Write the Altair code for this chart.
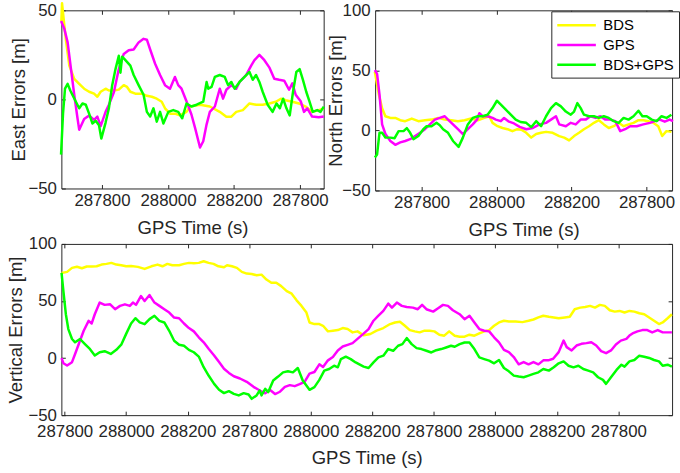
import json
import altair as alt
import pandas as pd

FONT = "Liberation Sans"
INK = "#262626"

series_names = ["BDS", "GPS", "BDS+GPS"]
series_colors = ["#ffff00", "#ff00ff", "#00ff00"]

top_tick_values = [0, 100, 200, 300]
top_tick_labels = ["287800", "288000", "288200", "287800"]
bottom_tick_values = [0, 100, 200, 300, 400, 500, 600, 700, 800, 900]
bottom_tick_labels = ["287800", "288000", "288200", "287800", "288000",
                      "288200", "287800", "288000", "288200", "287800"]

east_y_ticks = [-50, 0, 50]
north_y_ticks = [-50, 0, 50, 100]
vert_y_ticks = [-50, 0, 50, 100]

# ---- East errors (t, value) ----
east_bds = [(-61.5, 44), (-60.5, 54), (-58, 45), (-54.5, 33), (-49.5, 19), (-42, 11.5), (-34.5, 8.7),
            (-27, 6), (-19.5, 4.3), (-12, 3.2), (-7, 1.5), (-2, 4.3), (5.5, 6), (10.5, 5), (18, 5),
            (25.5, 5.5), (33, 8), (38, 7), (43, 4.3), (50.5, 3.2), (60.5, 3.2), (68, 2), (75.5, 1.5),
            (83, 0.4), (90.5, -1.3), (95.5, -5), (103, -8), (110.5, -8), (118, -9), (128, -7),
            (133.5, -4), (148.5, -3), (163.4, -4), (178.4, -7), (188.4, -9.7), (196, -9.7),
            (203.4, -7), (213.4, -6), (223.4, -2.3), (233.4, -3), (243.4, -3), (253.4, -2.3),
            (263.4, -1.3), (271, 0.4), (278.4, -0.5), (288.4, -1.3), (298.4, -2.3), (308.4, -4),
            (318.3, -7), (328.3, -6), (336, -5)]
east_gps = [(-62, 44), (-57, 39.6), (-52, 32), (-47, 17.3), (-42, 2.6), (-37, -10.7), (-34.5, -17),
            (-27, -11), (-19.5, -9), (-12, -11.5), (-7, -9.7), (-2, -15), (5.5, -7), (10.5, -3),
            (18, 4), (25.5, 17), (33, 25.5), (40.5, 27.6), (48, 28), (55.5, 32), (63, 34),
            (68, 33.5), (73, 28), (80.5, 20), (88, 13.7), (95.5, 8), (103, 6), (110.5, 12.6),
            (115.5, 8), (120.5, 6), (128, -1), (135.5, -8.5), (141, -16), (148.5, -27),
            (153.4, -23.5), (158.5, -14), (163.4, -7), (171, -4), (178.4, 6), (183.4, 0.4),
            (188.4, 5.4), (196, 8), (203.4, 6), (208.4, 9.8), (218.4, 13.7), (226, 19), (231, 22),
            (238.4, 25), (246, 22), (253.4, 18), (261, 11.6), (268.4, 11), (276, 10.5),
            (283.4, 5.4), (288.4, 9), (293.4, 2.6), (301, -1), (306, -7), (311, -5), (318.3, -9.6),
            (328.3, -10), (336, -9.6)]
east_both = [(-62, -31), (-59, -8), (-56, 6), (-52, 8.7), (-48, 5), (-44.5, 2.4), (-39.5, -1.3),
             (-34.5, -5), (-29.5, -2.3), (-24.5, -3), (-19.5, -8), (-14.5, -13.5), (-9.5, -12),
             (-4.5, -14.5), (-1, -22), (5.5, -13), (10.5, -5), (15.5, 8), (20.5, 17), (25.5, 24.5),
             (28, 15), (30.5, 24), (35.5, 22), (43, 19), (48, 13.7), (55.5, 8), (63, 2.6), (68, -7),
             (73, -9.6), (78, -5), (83, -12.5), (88, -7), (93, -13.5), (100.5, -7), (108, -6),
             (115.5, -7), (121.5, -10.6), (128, -2.3), (135.5, -4), (143.4, -3), (153.4, -1.3),
             (158.5, 9.8), (161, 6), (166, 7), (171, 12.6), (178.4, 13.7), (186, 12.6), (191, 8),
             (196, 9.8), (201, 6), (208.4, 9.8), (216, 12.6), (223.4, 15.4), (228.4, 11),
             (233.4, 13.7), (238.4, 9.8), (243.4, 4.3), (251, -3), (258.4, -7), (264.4, -2.3),
             (269.4, -5), (274.4, 0.4), (279.4, -5), (284.4, -9), (289.4, 4.3), (294.4, 15.4),
             (299.4, 17), (304.4, 11), (309.4, 4.3), (314.4, -1.3), (319.3, -7), (326, -6),
             (331, -7), (336, -4)]

# ---- North errors ----
north_bds = [(-62.5, 48.8), (-57.2, 30), (-52.8, 18.4), (-48.4, 11.8), (-41.8, 10.4), (-35.2, 10.4),
             (-28.6, 8.5), (-22, 7.7), (-13.2, 9.9), (-4.4, 7.7), (4.4, 8.5), (13.2, 9), (22, 10.4),
             (30.8, 9), (39.6, 8.5), (48.4, 7.7), (57.2, 8.5), (66, 9.9), (74.9, 8.5), (83.7, 10.4),
             (90.3, 11.8), (94.6, 6.3), (101.3, 3.5), (107.9, 2), (114.5, 1), (121.1, -0.6),
             (127.7, 1), (133, 0.5), (139.6, -2), (146.2, -6), (152.8, -3), (159.4, -2), (166, -1.2),
             (174.8, -2), (183.6, -4.7), (190.2, -6), (196.8, -8.3), (203.4, -4.7), (210, -2),
             (216.6, 1), (223.3, 3.5), (229.9, 6.3), (236.5, 8.5), (243.1, 5), (249.7, 2),
             (256.3, 3.5), (262.9, 6.3), (269.5, 3.5), (276.1, 5), (282.7, 6.3), (289.3, 8.5),
             (295.9, 8.5), (302.5, 7.7), (309.1, 6.3), (315.7, 3.5), (321, -4.7), (326.7, -0.6),
             (333.3, -1.2)]
north_gps = [(-62.5, 50.2), (-59.5, 47), (-56.3, 30), (-52.8, 5), (-48.4, -3), (-41.8, -8.8),
             (-35.2, -12), (-28.6, -10), (-22, -8.8), (-15.4, -7.3), (-8.8, -4.7), (-2.2, -2),
             (4.4, 1), (11, 5), (17.6, 9), (24.2, 10.4), (30.8, 11.8), (35.2, 9), (41.8, 5),
             (48.4, 1), (55, -3), (61.6, 1), (68.2, 5), (73.9, 9), (77, 14.3), (81.4, 11.8),
             (88, 11.8), (94.6, 10.4), (99, 9), (105.7, 7.7), (110, 10.4), (116.6, 7.3),
             (123.2, 5.8), (130.8, 3), (139.6, 1), (148.4, 2), (157.2, 5), (166, 6.3), (172.6, 9),
             (179.2, 11.8), (183.6, 5), (192.4, 3.5), (199, 6.3), (205.6, 5), (212.2, 9),
             (218.8, 9), (225.4, 11.8), (232, 10.4), (238.6, 11.8), (245.2, 9), (251.8, 9),
             (258.4, 7.7), (265, -0.6), (271.6, 1), (278.2, 3.5), (287, 3.5), (295.8, 5),
             (304.6, 6.3), (311.2, 7.7), (317.8, 9), (324.4, 7.3), (331, 9), (335.4, 7.7)]
north_both = [(-62.5, -22.6), (-59.5, -20), (-56.3, -2), (-52.8, -2), (-48.4, -6), (-41.8, -6),
              (-36.1, -6.5), (-30.8, -0.6), (-24.2, -0.6), (-19.8, 1.9), (-15.4, -2), (-11, -7.3),
              (-4.4, -4.7), (2.2, 1), (6.6, 3.5), (13.2, 3.5), (19.8, 6.3), (24.2, 4.3), (28.6, 1),
              (35.2, -2), (41.8, -8.8), (49.3, -13.7), (55, -6), (61.6, 5), (68.2, 10.4),
              (74.9, 11.8), (81.4, 11.8), (88, 13.1), (94.6, 18.6), (100.4, 24.7), (105.7, 21.5),
              (112.3, 17.3), (118.9, 13.1), (125.5, 9), (132, 7), (139.6, 6.3), (146.2, 2.7),
              (152.8, 7.7), (159.4, 3.5), (166, 11.8), (172.6, 18.6), (179.2, 22.7), (185.8, 20),
              (192.4, 15.7), (199, 13.1), (203.4, 15.7), (207.8, 22.7), (212.2, 18.6),
              (216.6, 13.1), (223.3, 11.8), (229.9, 11.8), (236.5, 10.4), (243.1, 11.8),
              (249.7, 10.4), (256.3, 7.7), (262.9, 6.3), (269.5, 10.4), (276.1, 9), (282.7, 11.8),
              (289.3, 16.4), (294.6, 11.8), (300.4, 11.8), (307, 9), (313.6, 7.7), (320.2, 11.8),
              (326.7, 10.4), (333.3, 13.1)]

# ---- Vertical errors ----
vert_bds = [(-5, 74.6), (4, 75.5), (12, 79), (20, 80), (28, 78.7), (36, 80.2), (44, 80.2), (52, 80.4),
            (60, 81.9), (68, 82.5), (76, 83.4), (84, 81.9), (92, 81.3), (100, 80.4), (108, 80.7),
            (119, 79.9), (130, 78.1), (141, 80.4), (151, 81.9), (159, 80.4), (167, 82.5),
            (175, 81.3), (186, 81.3), (194, 82.5), (202, 83.4), (210, 83.1), (218, 83.4),
            (226, 84.8), (234, 83.4), (242, 82.5), (250, 80.4), (259, 79.6), (264, 81.3),
            (272, 80.4), (280, 79), (288, 75.5), (296, 74), (304, 73.7), (312, 72.5), (320, 73.1),
            (328, 68.8), (336, 65.9), (344, 65.9), (352, 63), (361, 58.7), (369, 56.4),
            (377, 50.6), (385, 45.7), (393, 39.9), (398, 31.2), (406, 29.8), (414, 29.8),
            (420, 28.3), (428, 23.4), (436, 24), (444, 24.5), (452, 26.3), (460, 25.4),
            (468, 22.5), (476, 23.4), (486, 20), (497, 21.1), (507, 24), (518, 26.3), (529, 29.8),
            (537, 31.2), (545, 31.8), (553, 28.3), (561, 24.5), (569, 23.4), (577, 22.5),
            (585, 24), (593, 24), (601, 23.4), (609, 20.5), (617, 19.6), (625, 23.4), (634, 19.6),
            (642, 18.7), (650, 18.7), (658, 20.5), (666, 19.6), (674, 21.6), (682, 23.4),
            (690, 24.5), (698, 28.3), (706, 31.2), (714, 32.7), (722, 32.1), (733, 32.1),
            (744, 31.5), (754, 32.7), (762, 33.8), (770, 35.6), (778, 37.1), (787, 36.2),
            (795, 35.6), (803, 34.9), (813, 35.6), (821, 36.2), (829, 42.8), (838, 44.2),
            (846, 44.8), (854, 45.7), (862, 44.2), (870, 46.6), (878, 45.7), (886, 41.9),
            (894, 40.7), (902, 41.3), (910, 39.9), (918, 41.3), (926, 40.7), (934, 39.3),
            (942, 38.4), (950, 35.6), (958, 32.7), (966, 29.8), (972, 31.2), (980, 34.9),
            (987, 38.4)]
vert_gps = [(-5, 0), (-2, -4.5), (4, -6.5), (12, -3.6), (17, 3.6), (23, 12.3), (31, 23.9), (39, 32.6),
            (44, 30.3), (49, 38.4), (57, 48.6), (65, 46.6), (74, 47.1), (82, 42.8), (90, 45.7),
            (98, 47.1), (106, 45.7), (111, 48.6), (116, 46.6), (124, 54.3), (130, 50), (138, 55.2),
            (146, 48.6), (154, 45.7), (162, 42.8), (170, 39.9), (178, 35.5), (186, 34.9),
            (194, 30.3), (202, 26.3), (210, 23.4), (218, 18.2), (226, 13.8), (234, 8.1),
            (243, 2.3), (251, -3.5), (259, -9.3), (267, -13), (275, -15.9), (285, -17.9),
            (296, -20.8), (307, -25.2), (318, -28.6), (326, -30.9), (334, -28), (342, -31.5),
            (350, -29.5), (358, -25.2), (366, -23.7), (374, -24.6), (382, -22.9), (390, -20.8),
            (398, -13.6), (406, -12.2), (414, -5.5), (420, -7.8), (428, -2), (436, 0.9),
            (444, 6.7), (452, 10.1), (460, 11.6), (468, 13.1), (476, 16.8), (485, 21),
            (494, 25.4), (502, 32.7), (510, 37.1), (518, 41.3), (526, 47.7), (532, 44.2),
            (540, 48.6), (548, 45.7), (556, 44.8), (566, 44.2), (574, 42.8), (581, 46.6),
            (588, 42.8), (599, 40.7), (607, 43.6), (615, 46.6), (623, 45.7), (631, 41.9),
            (642, 38.4), (650, 34.1), (658, 37.1), (666, 31.2), (674, 25.4), (682, 23.9),
            (690, 23.4), (698, 18.2), (706, 13.8), (714, 7.2), (722, 5.2), (730, 0.9),
            (738, -5.5), (746, -3.5), (754, -5.5), (762, -3.5), (770, -5.5), (778, -2), (786, -2),
            (794, -0.6), (803, 5.2), (811, 15.3), (816, 9.6), (824, 6.7), (832, 11), (840, 12.5),
            (848, 13.1), (856, 13.9), (864, 11), (872, 6.1), (880, 4.3), (888, 6.7), (896, 11.9),
            (904, 15.3), (913, 16.8), (918, 19.7), (923, 21.6), (931, 23.4), (939, 24.5),
            (947, 24.5), (955, 22.5), (964, 24.5), (972, 22.5), (987, 22.5)]
vert_both = [(-5, 74.6), (-2, 58.7), (2, 38.4), (6, 25.4), (12, 16.7), (17, 13.8), (25, 16.7),
             (33, 12.3), (41, 8), (49, 2.2), (57, 5.1), (65, 6), (75, 3.6), (84, 7.2), (92, 11.7),
             (100, 21.2), (108, 30.3), (115, 34.9), (122, 31.2), (130, 29.7), (138, 34.1),
             (146, 37), (154, 32.6), (162, 31.2), (170, 23.9), (178, 15.2), (186, 11.7),
             (194, 10.8), (202, 7.2), (210, 5.1), (218, 1.3), (226, -8), (234, -15.3),
             (243, -22.6), (251, -27.8), (259, -30.7), (267, -29), (275, -31.3), (283, -32.7),
             (291, -30.7), (299, -31.9), (304, -35.7), (312, -32.7), (317, -28.4), (320, -32.7),
             (326, -26.9), (331, -29.8), (339, -19.7), (347, -16.2), (355, -12.5), (363, -11.6),
             (371, -12.5), (379, -8.7), (387, -19.7), (398, -27.8), (406, -25.5), (414, -19.1),
             (422, -11), (430, -9.6), (438, -6.7), (444, -8.1), (449, -0.9), (457, 1.2),
             (465, -0.9), (473, -3.8), (486, -7.5), (494, -8.7), (502, -3.8), (510, 0.6),
             (518, 2.1), (526, 7.9), (534, 6.4), (542, 10.8), (549, 12.2), (556, 17.5),
             (564, 12.2), (572, 8.7), (580, 7.9), (588, 6.4), (596, 4.9), (604, 6.9), (612, 7.9),
             (620, 9.3), (628, 10.8), (634, 9.9), (642, 12.2), (650, 13.6), (658, 13.6),
             (666, 7.9), (674, 0.6), (682, -0.9), (690, -2.3), (698, -4.6), (706, -1.7),
             (714, -8.7), (722, -11.6), (730, -15.4), (738, -16.2), (746, -16.8), (754, -15.4),
             (762, -13.9), (770, -12.5), (778, -9.6), (787, -11), (795, -8.1), (803, -4.6),
             (811, -2.9), (819, -6.7), (827, -8.1), (835, -6.7), (843, -9.6), (851, -11),
             (859, -12.5), (867, -16.8), (875, -19.1), (880, -22.6), (888, -16.8), (897, -10.4),
             (905, -5.8), (910, -7.5), (918, -2.9), (926, -1.7), (934, 2.1), (942, 1.2),
             (950, 0.1), (958, -1.7), (966, -2.9), (972, -6.7), (980, -5.8), (987, -7.5)]


def frame(*series):
    rows = []
    for name, pairs in zip(series_names, series):
        for i, (t, v) in enumerate(pairs):
            rows.append({"t": t, "v": v, "series": name, "i": i})
    return pd.DataFrame(rows)


def label_expr(values, labels):
    return f"{json.dumps(labels)}[indexof({json.dumps(values)}, datum.value)]"


AXIS_TEXT = dict(labelFont=FONT, labelFontSize=17, labelColor=INK, titleFont=FONT,
                 titleFontSize=18.7, titleColor=INK, titleFontWeight="normal",
                 tickColor=INK, tickWidth=1, tickSize=4, offset=-4, domain=False, grid=False)


def panel(df, xdom, ydom, xvals, xlabels, yvals, ytitle, w, h, ytitle_pad,
          xlabel_pad, xtitle_pad, legend=None):
    xs = alt.Scale(domain=xdom, nice=False, zero=False)
    ys = alt.Scale(domain=ydom, nice=False, zero=False)
    if legend is None:
        color = alt.Color("series:N", scale=alt.Scale(domain=series_names, range=series_colors),
                          legend=None)
    else:
        color = alt.Color("series:N", scale=alt.Scale(domain=series_names, range=series_colors),
                          legend=legend)
    lines = alt.Chart(df).mark_line(strokeWidth=2.5, strokeJoin="round").encode(
        x=alt.X("t:Q", scale=xs, axis=alt.Axis(
            orient="bottom", values=xvals, labelExpr=label_expr(xvals, xlabels),
            title="GPS Time (s)", labelPadding=xlabel_pad, titlePadding=xtitle_pad, **AXIS_TEXT)),
        y=alt.Y("v:Q", scale=ys, axis=alt.Axis(
            orient="left", values=yvals, title=ytitle, labelPadding=5, titlePadding=ytitle_pad,
            **AXIS_TEXT)),
        color=color,
        order="i:Q",
    )
    mirror = alt.Chart(df).mark_line(strokeOpacity=0).encode(
        x=alt.X("t:Q", scale=xs, axis=alt.Axis(
            orient="top", values=xvals, labels=False, title=None, **AXIS_TEXT)),
        y=alt.Y("v:Q", scale=ys, axis=alt.Axis(
            orient="right", values=yvals, labels=False, title=None, **AXIS_TEXT)),
        detail="series:N",
    )
    return alt.layer(lines, mirror).resolve_axis(x="independent", y="independent").properties(
        width=w, height=h)


legend = alt.Legend(
    orient="none", legendX=178, legendY=1, title=None, fillColor="white", strokeColor=INK,
    padding=5, symbolType="M-2.6,0L2.6,0", symbolSize=225, symbolStrokeWidth=2.5,
    labelFont=FONT, labelFontSize=15, labelColor="black", symbolOffset=11.5,
    labelOffset=18, rowPadding=3, cornerRadius=0)

east = panel(frame(east_bds, east_gps, east_both), [-61.5, 335.8], [-50, 50],
             top_tick_values, top_tick_labels, east_y_ticks, "East Errors [m]", 265, 180, -1,
             4, 10)
north = panel(frame(north_bds, north_gps, north_both), [-62.1, 334.2], [-50, 100],
              top_tick_values, top_tick_labels, north_y_ticks, "North Errors [m]", 300, 182, -4,
              4, 10, legend=legend)
vert = panel(frame(vert_bds, vert_gps, vert_both), [-5.3, 987.3], [-50, 100],
             bottom_tick_values, bottom_tick_labels, vert_y_ticks, "Vertical Errors [m]", 617, 173, 2,
             9, 9)

top = alt.hconcat(east, north, spacing=52, bounds="flush").resolve_legend(color="independent")
chart = alt.vconcat(top, vert, spacing=-6).resolve_legend(color="independent").properties(
    padding={"left": 6, "top": -2, "right": 0, "bottom": 0}, background="white"
).configure_view(stroke=INK, strokeWidth=1)

chart.save("out.html", embed_options={"renderer": "svg", "actions": False})
